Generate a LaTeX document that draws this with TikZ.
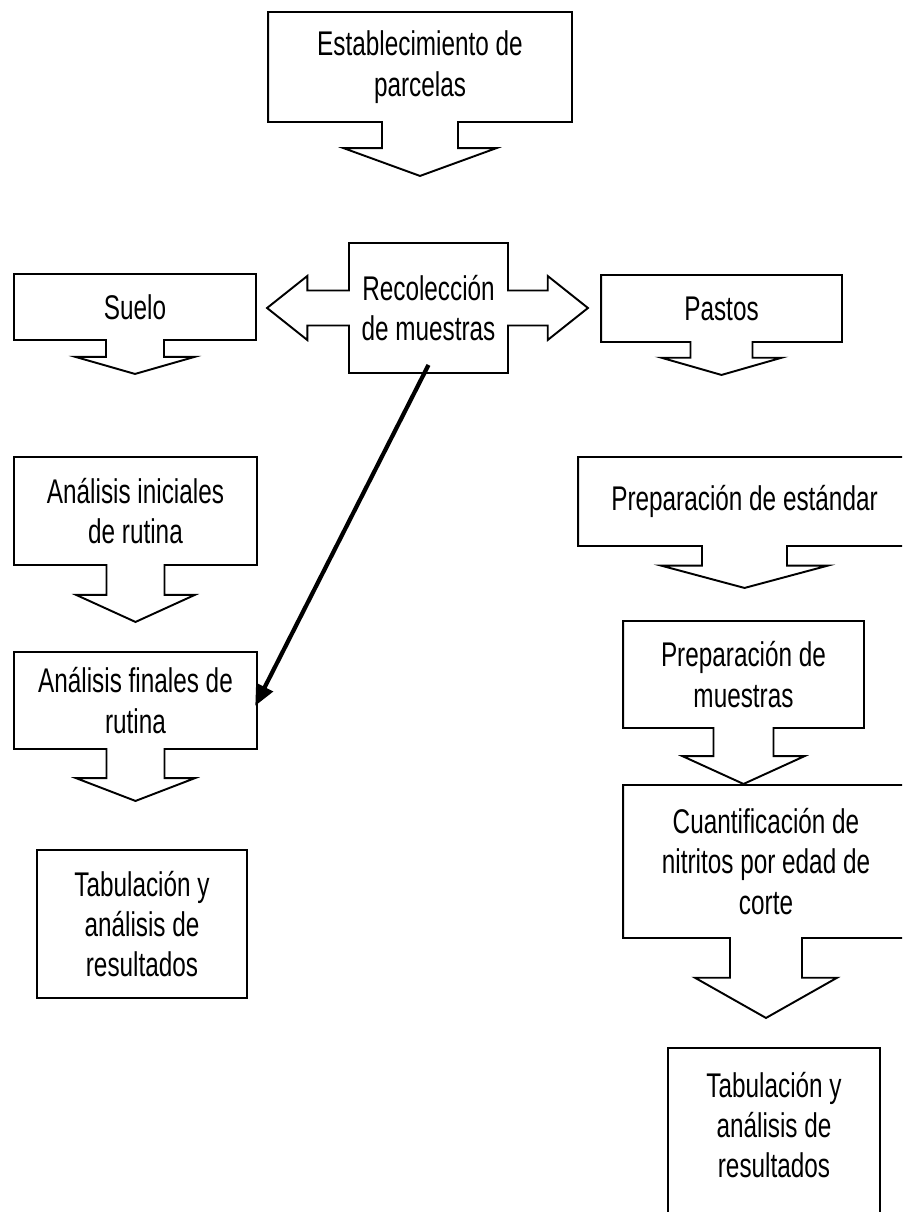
\documentclass[tikz,border=0pt]{standalone}
\usepackage{fontspec}
\newfontfamily\cajafont[FakeStretch=0.71]{Liberation Sans}
\usetikzlibrary{shapes.arrows,arrows.meta}

\tikzset{
	caja/.style={draw, line width=1.1pt, shape=arrow box, align=center, inner sep=0pt,
		font={\cajafont\fontsize{19.5pt}{23pt}\selectfont},
		arrow box north arrow=0pt, arrow box east arrow=0pt,
		arrow box west arrow=0pt, arrow box south arrow=0pt},
	marco/.style={draw, line width=1.1pt, rectangle, inner sep=0pt},
	texto/.style={align=center, inner sep=0pt, font={\cajafont\fontsize{19.5pt}{23pt}\selectfont}},
	flecha/.style={line width=2.4pt, -{Triangle[length=0.42cm,width=0.36cm]}}
}

\begin{document}
\begin{tikzpicture}[x=0.02cm, y=-0.02cm]
		\useasboundingbox (0,0) rectangle (902,1212);
		\clip (0,0) rectangle (902,1212);
		
		% centro
		\node[caja, minimum width=6.08cm, minimum height=2.2cm, arrow box south arrow=1.06cm,
			arrow box shaft width=1.52cm, arrow box head extend=0.77cm, arrow box tip angle=140]
			(parcelas) at (420,67) {Establecimiento de\\parcelas};
		\node[caja, minimum width=3.18cm, minimum height=2.6cm, arrow box west arrow=1.62cm,
			arrow box east arrow=1.58cm, arrow box shaft width=0.7cm, arrow box head extend=0.29cm,
			arrow box tip angle=77]
			(recoleccion) at (428.5,308) {Recolección\\de muestras};
		
		% suelo
		\node[caja, minimum width=4.84cm, minimum height=1.32cm, arrow box south arrow=0.66cm,
			arrow box shaft width=1.16cm, arrow box head extend=0.61cm, arrow box tip angle=148]
			(suelo) at (135,307) {Suelo};
		\node[caja, minimum width=4.86cm, minimum height=2.16cm, arrow box south arrow=1.12cm,
			arrow box shaft width=1.16cm, arrow box head extend=0.61cm, arrow box tip angle=131]
			(iniciales) at (135.5,511) {Análisis iniciales\\de rutina};
		\node[caja, minimum width=4.86cm, minimum height=1.94cm, arrow box south arrow=1.02cm,
			arrow box shaft width=1.16cm, arrow box head extend=0.61cm, arrow box tip angle=138]
			(finales) at (135.5,700.5) {Análisis finales de\\rutina};
		\node[marco, texto, minimum width=4.2cm, minimum height=2.96cm]
			(tabsuelo) at (142,924) {Tabulación y\\análisis de\\resultados};
		
		% pastos
		\node[caja, minimum width=4.82cm, minimum height=1.34cm, arrow box south arrow=0.64cm,
			arrow box shaft width=1.24cm, arrow box head extend=0.58cm, arrow box tip angle=148]
			(pastos) at (721.5,308.5) {Pastos};
		\node[caja, minimum width=6.66cm, minimum height=1.78cm, arrow box south arrow=0.82cm,
			arrow box shaft width=1.7cm, arrow box head extend=0.82cm, arrow box tip angle=150]
			(estandar) at (744.5,501.5) {Preparación de estándar};
		\node[caja, minimum width=4.82cm, minimum height=2.14cm, arrow box south arrow=1.1cm,
			arrow box shaft width=1.2cm, arrow box head extend=0.62cm, arrow box tip angle=131]
			(muestras) at (743.5,674.5) {Preparación de\\muestras};
		\node[caja, minimum width=5.72cm, minimum height=3.06cm, arrow box south arrow=1.58cm,
			arrow box shaft width=1.44cm, arrow box head extend=0.7cm, arrow box tip angle=121]
			(nitritos) at (766,861.5) {Cuantificación de\\nitritos por edad de\\corte};
		\node[marco, minimum width=4.24cm, minimum height=3.84cm] (tabpastos) at (774,1144) {};
		\node[texto] (tabpastostexto) at (774,1125) {Tabulación y\\análisis de\\resultados};
		
		\draw[flecha, shorten >=-0.12cm] ([yshift=0.18cm]recoleccion.south) -- (finales.east);
\end{tikzpicture}
\end{document}
